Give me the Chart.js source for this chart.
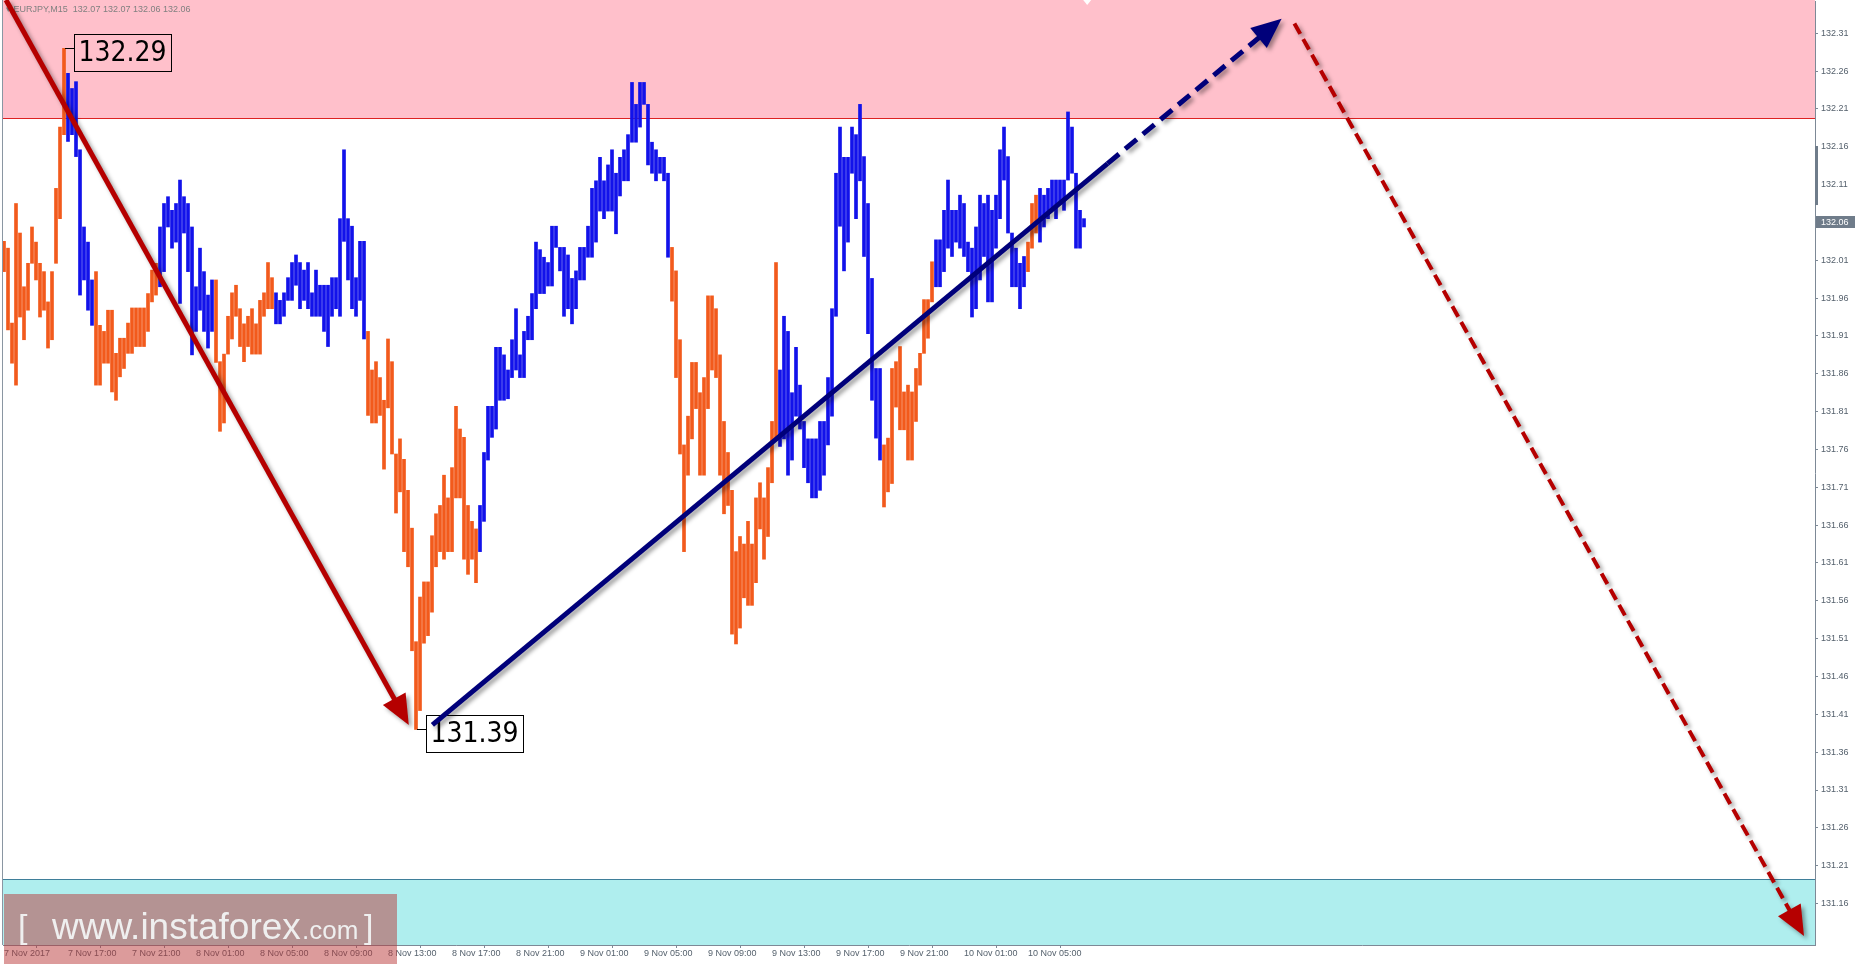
<!DOCTYPE html>
<html>
<head>
<meta charset="utf-8">
<script src="https://cdn.jsdelivr.net/npm/chart.js@4.4.1/dist/chart.umd.min.js"></script>
<style>
html,body{margin:0;padding:0;background:#fff;}
#wrap{width:1857px;height:964px;position:relative;}
canvas{display:block;}
</style>
</head>
<body>
<div id="wrap"><canvas id="c" width="1857" height="964"></canvas></div>
<script>
// ---- data (EURJPY M15, bar index 0 = 7 Nov 2017 13:00) ----
const highs = [
132.035,132.026,131.927,132.085,132.046,131.975,132.006,132.054,132.034,132.006,
131.995,131.955,131.995,132.105,132.186,132.290,132.257,132.237,132.246,132.156,
132.054,132.034,131.984,131.995,131.924,131.916,131.944,131.944,131.887,131.907,
131.907,131.927,131.947,131.947,131.947,131.947,131.966,131.997,132.006,132.054,
132.085,132.094,132.076,132.085,132.116,132.094,132.085,132.054,131.975,132.026,
131.995,131.964,131.984,131.984,131.876,131.886,131.936,131.967,131.977,131.946,
131.926,131.936,131.946,131.926,131.957,131.967,132.007,131.987,131.967,131.957,
131.967,131.987,132.007,132.017,132.007,131.997,132.007,131.967,131.997,131.977,
131.977,131.977,131.987,131.987,132.065,132.156,132.065,132.055,131.987,132.035,
132.035,131.916,131.865,131.876,131.855,131.825,131.906,131.876,131.754,131.774,
131.747,131.706,131.656,131.506,131.565,131.585,131.585,131.646,131.675,131.686,
131.726,131.696,131.736,131.817,131.787,131.776,131.686,131.665,131.655,131.686,
131.756,131.817,131.817,131.895,131.895,131.885,131.865,131.905,131.946,131.885,
131.916,131.936,131.966,132.034,132.024,132.014,132.007,132.055,132.055,132.027,
132.027,132.017,131.986,131.996,132.027,132.027,132.055,132.105,132.115,132.146,
132.115,132.136,132.156,132.125,132.146,132.156,132.176,132.245,132.216,132.245,
132.245,132.216,132.166,132.156,132.146,132.146,132.125,132.027,131.996,131.905,
131.766,131.804,131.875,131.875,131.835,131.855,131.963,131.963,131.946,131.885,
131.797,131.756,131.706,131.625,131.645,131.635,131.665,131.635,131.696,131.716,
131.696,131.736,131.797,132.007,131.865,131.936,131.916,131.835,131.895,131.845,
131.797,131.774,131.774,131.774,131.797,131.797,131.855,131.946,132.125,132.186,
132.146,132.146,132.186,132.176,132.216,132.147,132.085,131.986,131.867,131.867,
131.766,131.775,131.867,131.876,131.896,131.836,131.845,131.836,131.867,131.887,
131.958,131.958,132.008,132.037,132.037,132.076,132.116,132.076,132.076,132.096,
132.085,132.034,132.026,132.054,132.096,132.085,132.096,132.076,132.096,132.156,
132.186,132.147,132.046,132.026,132.006,132.015,132.034,132.085,132.096,132.105,
132.096,132.105,132.116,132.116,132.116,132.116,132.206,132.186,132.125,132.076,
132.065];
const lows = [
131.995,131.918,131.874,131.845,131.935,131.905,131.944,132.006,131.984,131.935,
131.944,131.894,131.905,132.006,132.065,132.176,132.167,132.176,132.147,131.964,
131.984,131.944,131.924,131.845,131.845,131.874,131.874,131.836,131.825,131.856,
131.867,131.887,131.887,131.896,131.896,131.896,131.916,131.955,131.964,131.975,
131.995,132.054,132.026,132.034,131.953,132.046,131.995,131.885,131.916,131.944,
131.916,131.894,131.916,131.875,131.784,131.795,131.886,131.906,131.936,131.896,
131.876,131.896,131.886,131.886,131.886,131.936,131.946,131.946,131.926,131.926,
131.936,131.957,131.957,131.977,131.946,131.957,131.946,131.936,131.936,131.936,
131.916,131.896,131.936,131.946,131.936,132.035,131.984,131.946,131.936,131.957,
131.906,131.805,131.795,131.795,131.805,131.734,131.815,131.754,131.676,131.704,
131.625,131.605,131.494,131.390,131.415,131.504,131.514,131.545,131.605,131.625,
131.615,131.625,131.625,131.696,131.696,131.615,131.595,131.615,131.584,131.625,
131.665,131.746,131.776,131.787,131.825,131.825,131.827,131.855,131.865,131.855,
131.855,131.905,131.905,131.946,131.966,131.966,131.976,131.976,132.027,131.996,
131.936,131.946,131.926,131.946,131.984,131.984,132.014,132.014,132.034,132.075,
132.065,132.075,132.075,132.045,132.095,132.115,132.115,132.166,132.166,132.186,
132.216,132.136,132.125,132.115,132.125,132.115,132.014,131.956,131.855,131.754,
131.625,131.726,131.774,131.814,131.726,131.726,131.814,131.865,131.855,131.726,
131.675,131.686,131.516,131.503,131.524,131.564,131.554,131.554,131.584,131.655,
131.615,131.645,131.716,131.774,131.764,131.774,131.726,131.746,131.804,131.787,
131.736,131.716,131.696,131.696,131.706,131.726,131.766,131.804,131.936,132.055,
131.996,132.034,132.125,132.065,132.115,132.015,131.913,131.825,131.775,131.746,
131.684,131.704,131.715,131.816,131.786,131.786,131.746,131.746,131.797,131.845,
131.887,131.907,131.955,131.975,131.975,131.995,132.026,132.015,132.034,132.026,
132.015,131.995,131.935,131.946,131.984,132.015,131.955,131.955,132.026,132.065,
132.116,132.046,131.975,131.975,131.946,131.975,131.995,132.026,132.046,132.034,
132.054,132.065,132.076,132.065,132.085,132.076,132.116,132.125,132.026,132.026,
132.054];
// colour runs: o = orange (down wave), b = blue (up wave)
const colourRuns = [['o',16],['b',7],['o',16],['b',14],['o',15],['b',23],['o',28],['b',48],['o',27],['b',26],['o',13],['b',23],['o',3],['b',12]];
const timeTickIndex = [0,16,32,48,64,80,96,112,128,144,160,176,192,208,224,240,256];
const timeTickLabels = ['7 Nov 2017','7 Nov 17:00','7 Nov 21:00','8 Nov 01:00','8 Nov 05:00','8 Nov 09:00','8 Nov 13:00','8 Nov 17:00','8 Nov 21:00','9 Nov 01:00','9 Nov 05:00','9 Nov 09:00','9 Nov 13:00','9 Nov 17:00','9 Nov 21:00','10 Nov 01:00','10 Nov 05:00'];
const priceTicks = [131.16,131.21,131.26,131.31,131.36,131.41,131.46,131.51,131.56,131.61,131.66,131.71,131.76,131.81,131.86,131.91,131.96,132.01,132.06,132.11,132.16,132.21,132.26,132.31];
const resistanceZone = 132.198;   // pink zone from here up
const supportZone = 131.192;      // cyan zone from here down
const lastPrice = 132.06;
const markHigh = {index:15, price:132.29, text:'132.29'};
const markLow = {index:103, price:131.39, text:'131.39'};
// wave arrows in (bar index, price)
const redWave = {from:[0.5,132.354], to:[101.2,131.396]};
const blueWave = {from:[107.1,131.396], to:[319.4,132.329], solidPart:0.795};
const redForecast = {from:[322.6,132.323], to:[450.0,131.117]};

const ORANGE = '#f25a1c', BLUE = '#1212ea';
const barColours = [];
colourRuns.forEach(([c,n]) => { for (let k=0;k<n;k++) barColours.push(c==='o'?ORANGE:BLUE); });
const barData = highs.map((h,i) => ({x:i, y:[lows[i], h]}));

function arrowHead(ctx, x1,y1,x2,y2,len,half,color){
  const a = Math.atan2(y2-y1,x2-x1);
  ctx.beginPath();
  ctx.moveTo(x2,y2);
  ctx.lineTo(x2 - len*Math.cos(a) + half*Math.sin(a), y2 - len*Math.sin(a) - half*Math.cos(a));
  ctx.lineTo(x2 - len*Math.cos(a) - half*Math.sin(a), y2 - len*Math.sin(a) + half*Math.cos(a));
  ctx.closePath();
  ctx.fillStyle = color; ctx.fill();
}
function segment(ctx,x1,y1,x2,y2,color,w,dash){
  ctx.beginPath(); ctx.setLineDash(dash||[]);
  ctx.moveTo(x1,y1); ctx.lineTo(x2,y2);
  ctx.strokeStyle=color; ctx.lineWidth=w; ctx.lineCap='butt'; ctx.stroke();
  ctx.setLineDash([]);
}
function shorten(x1,y1,x2,y2,d){
  const L=Math.hypot(x2-x1,y2-y1); return [x2-(x2-x1)/L*d, y2-(y2-y1)/L*d];
}

const decor = {
  id:'decor',
  beforeDatasetsDraw(chart){
    const {ctx, chartArea:a, scales:{x:X,y:Y}} = chart;
    ctx.save();
    const yr = Y.getPixelForValue(resistanceZone);
    ctx.fillStyle = '#ffc0cb';
    ctx.fillRect(a.left, 0, a.right-a.left, yr);
    ctx.fillStyle = '#dd2222'; ctx.fillRect(a.left, Math.round(yr), a.right-a.left, 1);
    const ys = Y.getPixelForValue(supportZone);
    ctx.fillStyle = '#afeeee';
    ctx.fillRect(a.left, ys, a.right-a.left, a.bottom-ys);
    ctx.fillStyle = '#3f7f9a'; ctx.fillRect(a.left, Math.round(ys), a.right-a.left, 1);
    ctx.fillStyle = '#8a96a2'; ctx.fillRect(a.left-1, 0, 1, a.bottom);
    ctx.fillStyle = '#808080';
    ctx.font = '9px "Liberation Sans", Arial, sans-serif';
    ctx.textBaseline = 'middle';
    ctx.fillText('\u25BE EURJPY,M15  132.07 132.07 132.06 132.06', 6, 10);
    const xs = X.getPixelForValue(270.8);
    ctx.beginPath(); ctx.moveTo(xs-4,0); ctx.lineTo(xs+4,0); ctx.lineTo(xs,5); ctx.closePath();
    ctx.fillStyle='#ffffff'; ctx.fill();
    ctx.restore();
  },
  afterDatasetsDraw(chart){
    const {ctx, chartArea:a, scales:{x:X,y:Y}} = chart;
    const P = (pt) => [X.getPixelForValue(pt[0]), Y.getPixelForValue(pt[1])];
    ctx.save();
    [markHigh, markLow].forEach(m => {
      const bx = X.getPixelForValue(m.index), by = Y.getPixelForValue(m.price);
      const w = 97, h = 37, left = bx + 10, top = by - h/2 + 4;
      ctx.strokeStyle = '#000'; ctx.lineWidth = 1;
      ctx.beginPath(); ctx.moveTo(bx+1, Math.round(by)+0.5); ctx.lineTo(left, Math.round(by)+0.5); ctx.stroke();
      ctx.strokeRect(Math.round(left)+0.5, Math.round(top)+0.5, w, h);
      ctx.fillStyle = '#000';
      ctx.font = '28px "DejaVu Sans Condensed", "Liberation Sans", Arial, sans-serif';
      ctx.textAlign = 'center'; ctx.textBaseline = 'middle';
      ctx.fillText(m.text, left + w/2, top + h/2 + 1);
    });
    ctx.shadowColor = 'rgba(0,0,0,0.38)'; ctx.shadowBlur = 4; ctx.shadowOffsetX = 3; ctx.shadowOffsetY = 3;
    let [x1,y1] = P(redWave.from), [x2,y2] = P(redWave.to);
    let [sx,sy] = shorten(x1,y1,x2,y2,24);
    segment(ctx,x1,y1,sx,sy,'#b50000',5);
    arrowHead(ctx,x1,y1,x2,y2,30,13,'#b50000');
    [x1,y1] = P(blueWave.from); [x2,y2] = P(blueWave.to);
    const mx = x1+(x2-x1)*blueWave.solidPart, my = y1+(y2-y1)*blueWave.solidPart;
    segment(ctx,x1,y1,mx,my,'#00007a',5);
    [sx,sy] = shorten(x1,y1,x2,y2,24);
    segment(ctx,mx,my,sx,sy,'#00007a',5,[15,8]);
    arrowHead(ctx,x1,y1,x2,y2,30,13,'#00007a');
    [x1,y1] = P(redForecast.from); [x2,y2] = P(redForecast.to);
    [sx,sy] = shorten(x1,y1,x2,y2,24);
    segment(ctx,x1,y1,sx,sy,'#b50000',4,[12,6]);
    arrowHead(ctx,x1,y1,x2,y2,30,13,'#b50000');
    ctx.restore();
  },
  afterDraw(chart){
    const {ctx, chartArea:a, scales:{y:Y}} = chart;
    ctx.save();
    const t1 = Y.getPixelForValue(132.161), t2 = Y.getPixelForValue(132.083);
    ctx.fillStyle = '#6f7c8a'; ctx.fillRect(a.right, t1, 3, t2-t1);
    const yp = Y.getPixelForValue(lastPrice);
    ctx.fillStyle = '#6f7c8a'; ctx.fillRect(a.right+1, Math.round(yp)-6, 39, 12);
    ctx.fillStyle = '#ffffff'; ctx.font = '9px "Liberation Sans", Arial, sans-serif';
    ctx.textBaseline = 'middle'; ctx.textAlign = 'left';
    ctx.fillText(lastPrice.toFixed(2), a.right+6, Math.round(yp)+0.5);
    ctx.fillStyle = 'rgba(185,55,55,0.5)';
    ctx.fillRect(4, 894, 393, 70);
    ctx.fillStyle = 'rgba(245,250,250,0.9)';
    ctx.textBaseline = 'alphabetic';
    ctx.font = '34px "Liberation Sans", Arial, sans-serif';
    ctx.fillText('[', 18, 938);
    ctx.font = '37px "Liberation Sans", Arial, sans-serif';
    ctx.fillText('www.instaforex', 52, 939);
    ctx.font = '26px "Liberation Sans", Arial, sans-serif';
    ctx.fillText('.com', 302, 939);
    ctx.font = '34px "Liberation Sans", Arial, sans-serif';
    ctx.fillText(']', 364, 938);
    ctx.restore();
  }
};

new Chart(document.getElementById('c'), {
  type:'bar',
  data:{datasets:[{data:barData, backgroundColor:barColours, borderWidth:0, barThickness:3, borderSkipped:false}]},
  options:{
    responsive:false, animation:false, devicePixelRatio:1,
    layout:{padding:{left:3, top:1, right:0, bottom:0}},
    plugins:{legend:{display:false}, tooltip:{enabled:false}},
    scales:{
      x:{type:'linear', min:-0.25, max:452.75, offset:false,
        grid:{drawOnChartArea:false, drawTicks:true, tickLength:3, color:'#7d8996'},
        border:{display:true, color:'#7d8996'},
        ticks:{autoSkip:false, maxRotation:0, align:'start', padding:0,
          font:{family:'"Liberation Sans", Arial, sans-serif', size:9}, color:'#55616d',
          callback:(v)=>{const k=timeTickIndex.indexOf(v); return k>=0?timeTickLabels[k]:'';}},
        afterBuildTicks:(s)=>{s.ticks = timeTickIndex.map(v=>({value:v}));},
        afterFit:(s)=>{s.height = 19; s.paddingLeft = 0; s.paddingRight = 0;}
      },
      y:{position:'right', min:131.1052, max:132.3526,
        grid:{drawOnChartArea:false, drawTicks:true, tickLength:3, color:'#7d8996'},
        border:{display:true, color:'#7d8996'},
        ticks:{padding:3, font:{family:'"Liberation Sans", Arial, sans-serif', size:9}, color:'#55616d',
          callback:(v)=>Number(v).toFixed(2)},
        afterBuildTicks:(s)=>{s.ticks = priceTicks.map(v=>({value:v}));},
        afterFit:(s)=>{s.width = 42; s.paddingTop = 0; s.paddingBottom = 0;}
      }
    }
  },
  plugins:[decor]
});
</script>
</body>
</html>
